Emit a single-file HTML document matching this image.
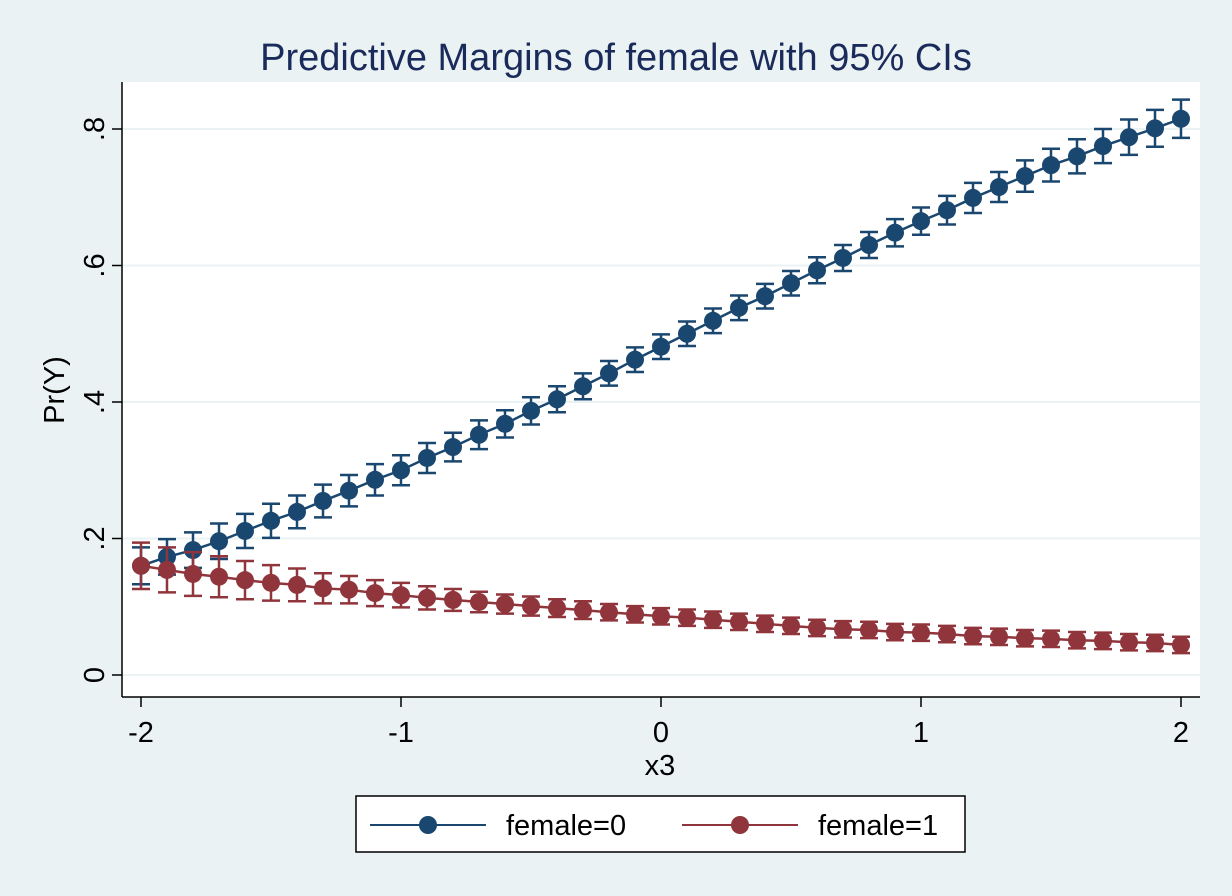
<!DOCTYPE html>
<html><head><meta charset="utf-8"><style>
html,body{margin:0;padding:0;background:#eaf2f3;}
svg{display:block;font-family:"Liberation Sans",sans-serif;}
</style></head><body>
<svg id="chart" width="1232" height="896">
<rect x="0" y="0" width="1232" height="896" fill="#eaf2f3"/>
<text x="616" y="70" font-size="38" fill="#1a2a5a" text-anchor="middle">Predictive Margins of female with 95% CIs</text>
<rect x="122" y="82" width="1078" height="615" fill="#ffffff"/>
<g id="grid"></g>
<g id="axes"></g>
<g id="series"></g>
<text x="660" y="775" font-size="29" text-anchor="middle" fill="#000">x3</text>
<text transform="translate(64,390) rotate(-90)" font-size="29" text-anchor="middle" fill="#000">Pr(Y)</text>
<g>
<rect x="356" y="796" width="609" height="56" fill="#fff" stroke="#000" stroke-width="1.5"/>
<g>
<line x1="370" y1="825" x2="486" y2="825" stroke="#1a476f" stroke-width="2"/>
<circle cx="428" cy="825" r="9" fill="#1a476f"/>
<text x="506" y="835" font-size="29" fill="#000">female=0</text>
</g>
<g>
<line x1="682" y1="825" x2="798" y2="825" stroke="#90353b" stroke-width="2"/>
<circle cx="740" cy="825" r="9" fill="#90353b"/>
<text x="818" y="835" font-size="29" fill="#000">female=1</text>
</g>
</g>
</svg>
<script>
const xValues = [-2,-1.9,-1.8,-1.7,-1.6,-1.5,-1.4,-1.3,-1.2,-1.1,-1,-0.9,-0.8,-0.7,-0.6,-0.5,-0.4,-0.3,-0.2,-0.1,0,0.1,0.2,0.3,0.4,0.5,0.6,0.7,0.8,0.9,1,1.1,1.2,1.3,1.4,1.5,1.6,1.7,1.8,1.9,2];
const female0 = [.160,.173,.183,.196,.211,.226,.239,.255,.270,.286,.300,.318,.334,.352,.368,.387,.404,.423,.442,.462,.481,.500,.519,.538,.555,.574,.593,.611,.630,.648,.665,.681,.699,.715,.731,.747,.760,.775,.788,.801,.815];
const female0Ci = [.027,.026,.026,.026,.025,.025,.024,.024,.023,.023,.022,.022,.021,.021,.020,.020,.019,.019,.018,.018,.018,.018,.018,.018,.018,.018,.019,.019,.019,.020,.020,.021,.022,.022,.023,.024,.025,.025,.026,.027,.028];
const female1 = [.160,.154,.148,.144,.139,.135,.132,.127,.125,.120,.117,.113,.110,.107,.104,.101,.098,.095,.092,.089,.086,.084,.081,.078,.075,.072,.069,.067,.066,.063,.062,.060,.057,.056,.054,.053,.051,.050,.048,.047,.044];
const female1Ci = [.034,.033,.032,.030,.028,.026,.024,.022,.020,.019,.018,.017,.016,.015,.014,.014,.013,.013,.012,.012,.012,.012,.012,.012,.012,.012,.012,.012,.012,.012,.012,.012,.012,.012,.012,.012,.012,.012,.012,.012,.012];
const xTicks = [-2,-1,0,1,2];
const xTickLabels = ["-2","-1","0","1","2"];
const yTicks = [0,.2,.4,.6,.8];
const yTickLabels = ["0",".2",".4",".6",".8"];

const NS="http://www.w3.org/2000/svg";
const xs = v => 141 + (v+2)*260;
const ys = v => 675 - v*682.5;
function mk(tag, attrs, parent){const e=document.createElementNS(NS,tag);for(const k in attrs)e.setAttribute(k,attrs[k]);parent.appendChild(e);return e;}
const grid=document.getElementById('grid'), axes=document.getElementById('axes'), series=document.getElementById('series');
yTicks.forEach((t,i)=>{
  const g=mk('line',{x1:122,x2:1200,y1:ys(t),y2:ys(t),stroke:'#eaf2f3','stroke-width':2},grid);
  
  
  const tk=mk('line',{x1:112,x2:122,y1:ys(t),y2:ys(t),stroke:'#000','stroke-width':1.5},axes);
  
  
  const lb=mk('text',{transform:`translate(104,${ys(t)}) rotate(-90)`,'font-size':29,'text-anchor':'middle',fill:'#000'},axes);
  lb.textContent=yTickLabels[i];
  
  
});
xTicks.forEach((t,i)=>{
  const tk=mk('line',{x1:xs(t),x2:xs(t),y1:697,y2:707,stroke:'#000','stroke-width':1.5},axes);
  
  
  const lb=mk('text',{x:xs(t),y:742,'font-size':29,'text-anchor':'middle',fill:'#000'},axes);
  lb.textContent=xTickLabels[i];
  
  
});
const ya=mk('line',{x1:122,x2:122,y1:82,y2:697,stroke:'#000','stroke-width':1.5},axes);


const xa=mk('line',{x1:122,x2:1200,y1:697,y2:697,stroke:'#000','stroke-width':1.5},axes);



function drawSeries(vals, ci, color, name){
  const g=mk('g',{},series);
  
  
  vals.forEach((v,i)=>{
    const x=xs(xValues[i]), lo=ys(v-ci[i]), hi=ys(v+ci[i]);
    const p=mk('path',{d:`M${x},${lo}V${hi}M${x-9},${lo}H${x+9}M${x-9},${hi}H${x+9}`,stroke:color,'stroke-width':2.5,fill:'none'},g);
    
    
  });
  const pl=mk('polyline',{points:vals.map((v,i)=>xs(xValues[i])+','+ys(v)).join(' '),stroke:color,'stroke-width':2.5,fill:'none'},g);
  
  
  vals.forEach((v,i)=>{
    const c=mk('circle',{cx:xs(xValues[i]),cy:ys(v),r:9,fill:color},g);
    
    
  });
}
drawSeries(female0,female0Ci,'#1a476f','series-female0');
drawSeries(female1,female1Ci,'#90353b','series-female1');
</script>
</body></html>
